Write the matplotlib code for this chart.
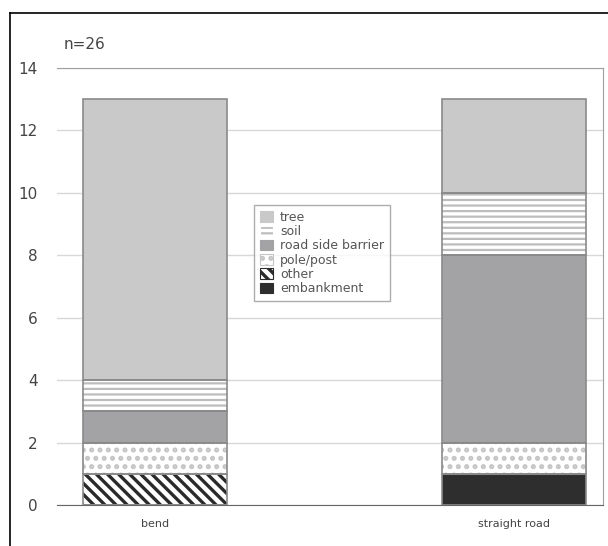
import matplotlib.pyplot as plt
from matplotlib.lines import Line2D

categories = ['bend', 'straight road']
# stack order bottom -> top
layers = ['embankment', 'other', 'pole/post', 'road side barrier', 'soil', 'tree']
embankment = [0, 1]
other = [1, 0]
pole_post = [1, 1]
road_side_barrier = [1, 6]
soil = [1, 2]
tree = [9, 3]
values = [embankment, other, pole_post, road_side_barrier, soil, tree]

styles = {
    'embankment': dict(color='#2e2e2e', hatch=None, hc='#2e2e2e'),
    'other': dict(color='white', hatch='\\\\\\', hc='#2a2a2a'),
    'pole/post': dict(color='white', hatch='..', hc='#c4c4c4'),
    'road side barrier': dict(color='#a3a3a5', hatch=None, hc='#a3a3a5'),
    'soil': dict(color='#bdbdbd', hatch='---', hc='white'),
    'tree': dict(color='#c9c9c9', hatch=None, hc='#c9c9c9'),
}

plt.rcParams['hatch.linewidth'] = 2.4

fig = plt.figure(figsize=(6.08, 5.46), dpi=100)
ax = fig.add_axes([0.094, 0.075, 0.898, 0.8005])

x = [0, 1]
w = 0.40
bottom = [0, 0]
handles = {}
for name, vals in zip(layers, values):
    st = styles[name]
    bars = ax.bar(x, vals, w, bottom=bottom, color=st['color'], edgecolor=st['hc'],
                  hatch=st['hatch'], linewidth=0, zorder=2, label=name)
    ax.bar(x, vals, w, bottom=bottom, fill=False, edgecolor='#8a8a8a', linewidth=1.2, zorder=3)
    handles[name] = bars
    bottom = [b + v for b, v in zip(bottom, vals)]

ax.set_xlim(-0.273, 1.248)
ax.set_ylim(0, 14)
ax.set_yticks(range(0, 15, 2))
ax.yaxis.grid(True, color='#d8d8d8', linewidth=1, zorder=0)
ax.set_axisbelow(True)
ax.set_xticks(x)
ax.set_xticklabels(categories, fontsize=8, color='#444444')
ax.tick_params(axis='y', labelsize=11, colors='#444444', length=0, pad=14)
ax.tick_params(axis='x', length=0, pad=10)
for s in ['top', 'right']:
    ax.spines[s].set_color('#a0a0a0')
ax.spines['left'].set_visible(False)
ax.spines['bottom'].set_color('#666666')

order = ['tree', 'soil', 'road side barrier', 'pole/post', 'other', 'embankment']
leg = ax.legend([handles[n] for n in order], order, loc='upper left',
                bbox_to_anchor=(0.35, 0.70), fontsize=9, frameon=True,
                fancybox=False, edgecolor='#999999', handlelength=1.0,
                handleheight=0.9, labelspacing=0.1, borderpad=0.45,
                handletextpad=0.6)
for t in leg.get_texts():
    t.set_color('#555555')
for p in leg.get_patches():
    p.set_linewidth(0.8)

fig.text(0.105, 0.91, 'n=26', fontsize=11, color='#444444')

# outer frame
fig.add_artist(Line2D([0.016, 0.016], [0.0, 0.976], color='black', linewidth=1.2))
fig.add_artist(Line2D([0.016, 1.0], [0.976, 0.976], color='black', linewidth=1.2))

plt.savefig('out.png')
